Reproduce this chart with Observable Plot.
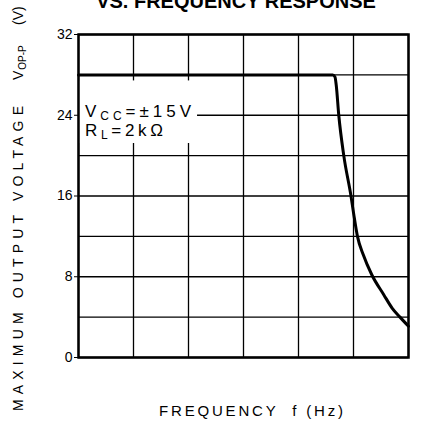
<!DOCTYPE html>
<html>
<head>
<meta charset="utf-8">
<script src="https://cdn.jsdelivr.net/npm/d3@7"></script>
<script src="https://cdn.jsdelivr.net/npm/@observablehq/plot@0.6"></script>
<style>
  html, body { margin: 0; padding: 0; background: #fff; }
  #chart svg { display: block; }
</style>
</head>
<body>
<div id="chart"></div>
<script>
// Data
const freq = [1, 10, 100, 1000, 10000, 42000, 46000, 48500, 54000, 66600, 90000, 101000, 118000, 150000, 215000, 357000, 503000, 700000, 1000000];
const vout = [28, 28, 28, 28, 28, 28, 27.8, 27, 24, 20, 16, 14.2, 12, 10.2, 8.2, 6.2, 4.9, 4, 3.1];

const xTicks = [1, 10, 100, 1000, 10000, 100000, 1000000];
const xTickLabels = ["1", "10", "100", "1k", "10k", "100k", "1M"];
const yGrid = [0, 4, 8, 12, 16, 20, 24, 28, 32];
const yTicks = [0, 8, 16, 24, 32];

const titleText = "VS. FREQUENCY RESPONSE";
const xLabelText = "FREQUENCY  f (Hz)";
const yLabelMain = "MAXIMUM OUTPUT VOLTAGE";
const condVcc = "±15V";
const condRl = "2kΩ";

// annotation mask area (data units)
const maskX = [1, 146];
const maskY = [21.2, 27.4];

const data = freq.map((f, i) => ({f, v: vout[i]}));

const chart = Plot.plot({
  width: 424,
  height: 425,
  marginLeft: 78,
  marginRight: 16,
  marginTop: 34,
  marginBottom: 68,
  style: {fontFamily: "Liberation Sans, Arial, sans-serif", fontSize: "14px", color: "#000", background: "#fff"},
  x: {type: "log", domain: [1, 1e6]},
  y: {domain: [0, 32]},
  marks: [
    Plot.ruleX(xTicks, {stroke: "#000", strokeWidth: 1.3}),
    Plot.ruleY(yGrid, {stroke: "#000", strokeWidth: 1.3}),
    Plot.rect([0], {x1: () => maskX[0], x2: () => maskX[1], y1: () => maskY[0], y2: () => maskY[1], fill: "#fff", inset: 0}),
    Plot.line(data, {x: "f", y: "v", curve: "monotone-x", stroke: "#000", strokeWidth: 3}),
    Plot.frame({stroke: "#000", strokeWidth: 2.5}),
    Plot.axisX(xTicks, {tickFormat: (d, i) => xTickLabels[i], tickSize: 0, tickPadding: 13, fontSize: 14, label: null}),
    Plot.axisY(yTicks, {tickSize: 4, tickPadding: 2, fontSize: 14, label: null, stroke: "#000"})
  ]
});

document.getElementById("chart").appendChild(chart);

const svg = d3.select(chart);
const sx = chart.scale("x"), sy = chart.scale("y");
const font = "Liberation Sans, Arial, sans-serif";

// title (cut off at top as in the reference)
svg.append("text")
  .attr("x", 236).attr("y", 8)
  .attr("text-anchor", "middle")
  .attr("font-family", font).attr("font-weight", "bold").attr("font-size", 20)
  .text(titleText);

// x label
svg.append("text")
  .attr("x", 159).attr("y", 416)
  .attr("text-anchor", "start")
  .attr("font-family", font).attr("font-size", 15)
  .attr("textLength", 184).attr("lengthAdjust", "spacing")
  .style("white-space", "pre")
  .text(xLabelText);

// y label
const yl = svg.append("g").attr("transform", "translate(23,411) rotate(-90)")
  .attr("font-family", font).attr("font-size", 14).attr("text-anchor", "start");
yl.append("text").attr("x", 0).attr("y", 0)
  .attr("textLength", 305).attr("lengthAdjust", "spacing")
  .text(yLabelMain);
const yv = yl.append("text").attr("x", 331).attr("y", 0);
yv.append("tspan").text("V");
yv.append("tspan").attr("font-size", 10).attr("dy", 3).attr("dx", 1).text("OP-P");
yl.append("text").attr("x", 386).attr("y", 0).text("(V)");

// conditions annotation
const ax = sx.apply(1) + 7;
const t1 = svg.append("text").attr("x", ax).attr("y", sy.apply(23.8))
  .attr("text-anchor", "start")
  .attr("font-family", font).attr("font-size", 17)
  .attr("textLength", 106).attr("lengthAdjust", "spacing");
t1.append("tspan").text("V");
t1.append("tspan").attr("font-size", 12).attr("dy", 3).text("CC");
t1.append("tspan").attr("dy", -3).text("=" + condVcc);
const t2 = svg.append("text").attr("x", ax).attr("y", sy.apply(21.9))
  .attr("text-anchor", "start")
  .attr("font-family", font).attr("font-size", 17)
  .attr("textLength", 78).attr("lengthAdjust", "spacing");
t2.append("tspan").text("R");
t2.append("tspan").attr("font-size", 12).attr("dy", 3).text("L");
t2.append("tspan").attr("dy", -3).text("=" + condRl);
</script>
</body>
</html>
